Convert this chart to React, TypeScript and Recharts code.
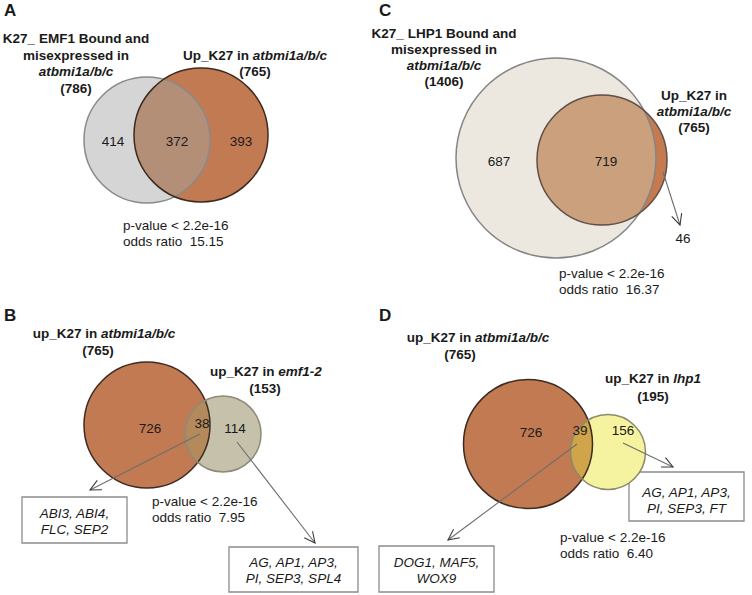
import { ScatterChart, Scatter, XAxis, YAxis, ReferenceArea } from "recharts";

const W = 752;
const H = 595;
const FONT = "'Liberation Sans', Arial, sans-serif";

// gene counts in each region: [left only, both, right only]
const countsA = [414, 372, 393];
const countsB = [726, 38, 114];
const countsC = [687, 719, 46];
const countsD = [726, 39, 156];

// set totals: [first set, second set]
const totalsA = [786, 765];
const totalsB = [765, 153];
const totalsC = [1406, 765];
const totalsD = [765, 195];

const pValues = ["2.2e-16", "2.2e-16", "2.2e-16", "2.2e-16"]; // A, B, C, D
const oddsRatios = ["15.15", "7.95", "16.37", "6.40"];

const genesB = [["ABI3, ABI4,", "FLC, SEP2"], ["AG, AP1, AP3,", "PI, SEP3, SPL4"]];
const genesD = [["DOG1, MAF5,", "WOX9"], ["AG, AP1, AP3,", "PI, SEP3, FT"]];

const ORANGE = "#c27a52";
const DARK = "#3d2b22";

// --- layout (chart units = pixels, y grows downward) ---
const circles = [
  { id: "A1", x: 147, y: 140, r: 63, fill: "#d5d5d5", stroke: "#8a8a8a" },
  { id: "A2", x: 201, y: 135, r: 67, fill: ORANGE, stroke: DARK },
  { id: "C1", x: 556, y: 158, r: 100, fill: "#ece8e0", stroke: "#858585" },
  { id: "C2", x: 602, y: 160, r: 65, fill: "#c57a50", stroke: "#5e5048" },
  { id: "B1", x: 147, y: 425, r: 63, fill: ORANGE, stroke: DARK },
  { id: "B2", x: 223, y: 434, r: 38, fill: "#c5c1aa", stroke: "#8e8a78" },
  { id: "D1", x: 528, y: 444, r: 64.5, fill: ORANGE, stroke: DARK },
  { id: "D2", x: 608, y: 452, r: 37.5, fill: "#f5f3a0", stroke: "#8c8a66" },
];

const lenses = [
  { id: "A", a: "A1", b: "A2", fill: "#b38f78" },
  { id: "C", a: "C1", b: "C2", fill: "#caa07d" },
  { id: "B", a: "B1", b: "B2", fill: "#b48a5c" },
  { id: "D", a: "D1", b: "D2", fill: "#d0a44a" },
];

const byId = (id: string) => circles.find((c) => c.id === id)!;
const lensData = lenses.map((l) => {
  const a = byId(l.a);
  const b = byId(l.b);
  return { x: b.x, y: b.y, r: b.r, ax: a.x, ay: a.y, ar: a.r, fill: l.fill, id: l.id };
});

type Seg = [string, boolean?];
type TextItem = {
  x: number;
  y: number;
  lines: Seg[][];
  bold?: boolean;
  anchor?: "start" | "middle";
  size?: number;
  lh?: number;
  italic?: boolean;
};

const t = (s: string, i?: boolean): Seg[] => [[s, i]];

const countPos = {
  A: [[113, 146], [177, 146], [241, 146]],
  B: [[150, 433], [202, 428], [235, 433]],
  C: [[499, 166], [606, 166], [683, 243]],
  D: [[531, 437], [580, 435], [623, 435]],
};

const countTexts: TextItem[] = (
  [
    ["A", countsA],
    ["B", countsB],
    ["C", countsC],
    ["D", countsD],
  ] as [keyof typeof countPos, number[]][]
).flatMap(([k, vals]) =>
  vals.map((v, i) => ({ x: countPos[k][i][0], y: countPos[k][i][1], lines: [t(String(v))] }))
);

const statPos = [[123, 230], [152, 506], [559, 278], [560, 542]];
const statTexts: TextItem[] = pValues.map((p, i) => ({
  x: statPos[i][0],
  y: statPos[i][1],
  anchor: "start",
  lh: 16,
  lines: [t(`p-value < ${p}`), t(`odds ratio  ${oddsRatios[i]}`)],
}));

const boxes = [
  { x1: 22, x2: 127, y1: 497, y2: 543, genes: genesB[0], ty: 518 },
  { x1: 229, x2: 358, y1: 547, y2: 592, genes: genesB[1], ty: 567 },
  { x1: 379, x2: 494, y1: 546, y2: 592, genes: genesD[0], ty: 567 },
  { x1: 629, x2: 744, y1: 472, y2: 521, genes: genesD[1], ty: 497 },
];
const boxTexts: TextItem[] = boxes.map((b) => ({
  x: (b.x1 + b.x2) / 2,
  y: b.ty,
  italic: true,
  lh: 16,
  lines: b.genes.map((g) => t(g)),
}));

const labelTexts: TextItem[] = [
  { x: 4, y: 16, lines: [t("A")], bold: true, anchor: "start", size: 17 },
  { x: 379, y: 16, lines: [t("C")], bold: true, anchor: "start", size: 17 },
  { x: 4, y: 321, lines: [t("B")], bold: true, anchor: "start", size: 17 },
  { x: 379, y: 321, lines: [t("D")], bold: true, anchor: "start", size: 17 },
  {
    x: 76, y: 43, bold: true, lh: 16.5,
    lines: [t("K27_ EMF1 Bound and"), t("misexpressed in"), t("atbmi1a/b/c", true), t(`(${totalsA[0]})`)],
  },
  {
    x: 255, y: 59.5, bold: true, lh: 16.5,
    lines: [[["Up_K27 in "], ["atbmi1a/b/c", true]], t(`(${totalsA[1]})`)],
  },
  {
    x: 444, y: 37.5, bold: true, lh: 16.3,
    lines: [t("K27_ LHP1 Bound and"), t("misexpressed in"), t("atbmi1a/b/c", true), t(`(${totalsC[0]})`)],
  },
  {
    x: 694, y: 100, bold: true, lh: 16,
    lines: [t("Up_K27 in"), t("atbmi1a/b/c", true), t(`(${totalsC[1]})`)],
  },
  { x: 104, y: 338, bold: true, lines: [[["up_K27 in "], ["atbmi1a/b/c", true]]] },
  { x: 98, y: 355, bold: true, lines: [t(`(${totalsB[0]})`)] },
  { x: 266, y: 376, bold: true, lines: [[["up_K27 in "], ["emf1-2", true]]] },
  { x: 265, y: 393, bold: true, lines: [t(`(${totalsB[1]})`)] },
  { x: 478, y: 342, bold: true, lines: [[["up_K27 in "], ["atbmi1a/b/c", true]]] },
  { x: 460, y: 359, bold: true, lines: [t(`(${totalsD[0]})`)] },
  { x: 653, y: 383, bold: true, lines: [[["up_K27 in "], ["lhp1", true]]] },
  { x: 653, y: 401, bold: true, lines: [t(`(${totalsD[1]})`)] },
];

const allTexts = [...labelTexts, ...countTexts, ...statTexts, ...boxTexts];

// arrow start (x, y) and tip (x2, y2)
const arrows = [
  { x: 663, y: 172, x2: 680, y2: 225 },
  { x: 200, y: 434, x2: 90, y2: 490 },
  { x: 237, y: 442, x2: 315, y2: 543 },
  { x: 623, y: 443, x2: 673, y2: 467 },
  { x: 577, y: 444, x2: 448, y2: 540 },
];

// --- shapes ---
const FillShape = (p: any) => <circle cx={p.cx} cy={p.cy} r={p.payload.r} fill={p.payload.fill} />;
const OutlineShape = (p: any) => (
  <circle cx={p.cx} cy={p.cy} r={p.payload.r} fill="none" stroke={p.payload.stroke} strokeWidth={1.5} />
);
const LensShape = (p: any) => {
  const d = p.payload;
  const id = `lens-clip-${d.id}`;
  return (
    <g>
      <defs>
        <clipPath id={id}>
          <circle cx={p.cx + (d.ax - d.x)} cy={p.cy + (d.ay - d.y)} r={d.ar} />
        </clipPath>
      </defs>
      <circle cx={p.cx} cy={p.cy} r={d.r} fill={d.fill} clipPath={`url(#${id})`} />
    </g>
  );
};
const TextShape = (p: any) => {
  const d: TextItem = p.payload;
  return (
    <text
      x={p.cx}
      y={p.cy}
      textAnchor={d.anchor ?? "middle"}
      fontSize={d.size ?? 13.5}
      fontWeight={d.bold ? 700 : 400}
      fontStyle={d.italic ? "italic" : "normal"}
      fontFamily={FONT}
      fill="#1a1a1a"
      style={{ whiteSpace: "pre" }}
    >
      {d.lines.map((line, i) => (
        <tspan key={i} x={p.cx} dy={i === 0 ? 0 : d.lh ?? 16.5}>
          {line.map((seg, j) => (
            <tspan key={j} fontStyle={seg[1] ? "italic" : undefined}>
              {seg[0]}
            </tspan>
          ))}
        </tspan>
      ))}
    </text>
  );
};
const ArrowShape = (p: any) => {
  const d = p.payload;
  const x1 = p.cx;
  const y1 = p.cy;
  const x2 = p.cx + (d.x2 - d.x);
  const y2 = p.cy + (d.y2 - d.y);
  const ang = Math.atan2(y2 - y1, x2 - x1);
  const L = 12;
  const s = 0.45;
  const wa = [x2 - L * Math.cos(ang - s), y2 - L * Math.sin(ang - s)];
  const wb = [x2 - L * Math.cos(ang + s), y2 - L * Math.sin(ang + s)];
  return (
    <g>
      <line x1={x1} y1={y1} x2={x2} y2={y2} stroke="#6e6e6e" strokeWidth={1.1} />
      <polyline
        points={`${wa[0]},${wa[1]} ${x2},${y2} ${wb[0]},${wb[1]}`}
        fill="none"
        stroke="#3a3a3a"
        strokeWidth={1.1}
      />
    </g>
  );
};

export default function App() {
  return (
    <div style={{ position: "absolute", left: 0, top: 0, background: "#fff" }}>
      <ScatterChart width={W} height={H} margin={{ top: 0, right: 0, bottom: 0, left: 0 }}>
        <XAxis type="number" dataKey="x" domain={[0, W]} hide />
        <YAxis type="number" dataKey="y" domain={[0, H]} reversed hide />
        {boxes.map((b, i) => (
          <ReferenceArea
            key={`box-${i}`}
            x1={b.x1}
            x2={b.x2}
            y1={b.y1}
            y2={b.y2}
            fill="#ffffff"
            fillOpacity={1}
            stroke="#8c8c8c"
            strokeWidth={1.3}
          />
        ))}
        <Scatter data={circles} shape={FillShape} isAnimationActive={false} />
        <Scatter data={lensData} shape={LensShape} isAnimationActive={false} />
        <Scatter data={circles} shape={OutlineShape} isAnimationActive={false} />
        <Scatter data={arrows} shape={ArrowShape} isAnimationActive={false} />
        <Scatter data={allTexts} shape={TextShape} isAnimationActive={false} />
      </ScatterChart>
    </div>
  );
}
